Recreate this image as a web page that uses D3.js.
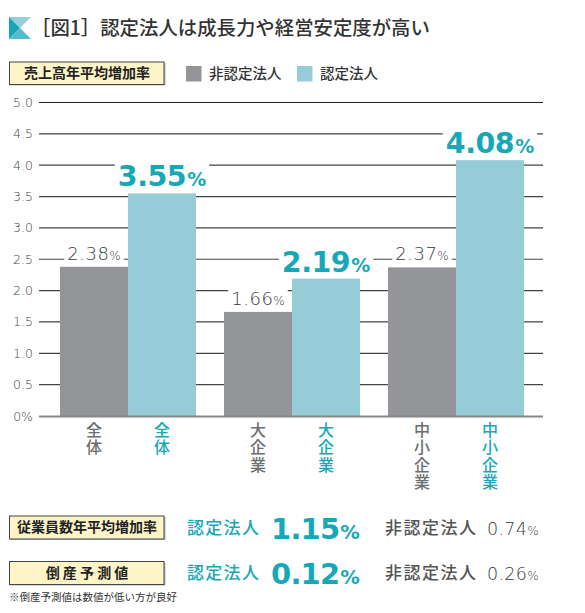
<!DOCTYPE html>
<html>
<head>
<meta charset="utf-8">
<script src="https://cdn.jsdelivr.net/npm/d3@7"></script>
<style>
  html, body { margin: 0; padding: 0; background: #fff; }
  svg { display: block; }
  .vert { writing-mode: vertical-rl; text-orientation: upright; }
</style>
</head>
<body>
<svg id="chart" width="585" height="613"></svg>
<script>
// ---- data ----
const title = "［図1］認定法人は成長力や経営安定度が高い";
const chartLabel = "売上高年平均増加率";
const seriesNames = ["非認定法人", "認定法人"];
const categories = ["全体", "大企業", "中小企業"];
const nonCertified = [2.38, 1.66, 2.37];
const certified = [3.55, 2.19, 4.08];
const yTicks = [0, 0.5, 1.0, 1.5, 2.0, 2.5, 3.0, 3.5, 4.0, 4.5, 5.0];
const yTickLabels = ["0%", "0.5", "1.0", "1.5", "2.0", "2.5", "3.0", "3.5", "4.0", "4.5", "5.0"];
const statLabels = ["従業員数年平均増加率", "倒 産 予 測 値"];
const statCertified = [1.15, 0.12];
const statNonCertified = [0.74, 0.26];
const footnote = "※倒産予測値は数値が低い方が良好";

// ---- style ----
const GRAY = "#939598", TEAL = "#96cbd8", TEAL_TXT = "#17a8b8";
const CJK = "'Noto Sans CJK JP', 'Noto Sans', sans-serif";
const NUM = "'DejaVu Sans', sans-serif";

const svg = d3.select("#chart");

// ---- title ----
const icon = svg.append("g");
icon.append("polygon").attr("points", "9,17 31,17 20,28").attr("fill", "#93d0dc");
icon.append("polygon").attr("points", "9,17 20,28 9,39").attr("fill", "#17a5b6");
icon.append("polygon").attr("points", "9,39 20,28 31,39").attr("fill", "#55bccb");
svg.append("text").attr("x", 31).attr("y", 35)
  .attr("font-family", CJK).attr("font-size", 19.4).attr("font-weight", 500)
  .attr("fill", "#333").text(title);

// ---- label box helper ----
function labelBox(y, h, txt) {
  const g = svg.append("g");
  g.append("rect").attr("x", 10.5).attr("y", y + 1.5).attr("width", 155).attr("height", h)
    .attr("fill", "#bbb");
  g.append("rect").attr("x", 9.5).attr("y", y + 0.5).attr("width", 154.5).attr("height", h)
    .attr("fill", "#fdf5c8").attr("stroke", "#444").attr("stroke-width", 1);
  g.append("text").attr("x", 87).attr("y", y + h / 2 + 5)
    .attr("text-anchor", "middle").attr("font-family", CJK).attr("font-size", 14)
    .attr("font-weight", 700).attr("fill", "#222").text(txt);
}
labelBox(61.5, 22.5, chartLabel);

// ---- legend ----
const legendColors = [GRAY, TEAL];
const legendX = [186, 297];
seriesNames.forEach((n, i) => {
  svg.append("rect").attr("x", legendX[i]).attr("y", 66).attr("width", 15.5).attr("height", 15.5)
    .attr("fill", legendColors[i]);
  svg.append("text").attr("x", legendX[i] + 23).attr("y", 79)
    .attr("font-family", CJK).attr("font-size", 14.5).attr("font-weight", 500)
    .attr("fill", "#333").text(n);
});

// ---- scales ----
const y = d3.scaleLinear().domain([0, 5]).range([416, 102.5]);
const x = d3.scaleBand().domain(categories).range([39, 545]).paddingInner(0.1707).paddingOuter(0.128);
const xs = d3.scaleBand().domain(seriesNames).range([0, x.bandwidth()]);

// gridlines
const grid = svg.append("g");
grid.selectAll("line").data(yTicks.filter(t => t > 0)).join("line")
  .attr("x1", 39).attr("x2", 543)
  .attr("y1", d => y(d)).attr("y2", d => y(d))
  .attr("stroke", d => d === 5 ? "#222" : "#444").attr("stroke-width", 1.2);

// tick labels
svg.append("g").selectAll("text").data(yTicks).join("text")
  .attr("x", 33).attr("y", d => y(d) + 4.5)
  .attr("text-anchor", "end").attr("font-family", NUM).attr("font-weight", 200)
  .attr("font-size", 12.5).attr("fill", "#444")
  .text((d, i) => yTickLabels[i]);

// bars
const rows = categories.map((c, i) => ({ c, vals: [nonCertified[i], certified[i]] }));
const barG = svg.append("g");
rows.forEach(r => {
  r.vals.forEach((v, j) => {
    barG.append("rect")
      .attr("x", x(r.c) + xs(seriesNames[j]))
      .attr("y", y(v))
      .attr("width", xs.bandwidth())
      .attr("height", y(0) - y(v))
      .attr("fill", legendColors[j]);
  });
});

// x base line
svg.append("line").attr("x1", 39).attr("x2", 543).attr("y1", 416.5).attr("y2", 416.5)
  .attr("stroke", "#888").attr("stroke-width", 2.2);

// value labels
const labelG = svg.append("g");
function valueLabel(cx, baseY, v, big) {
  const g = labelG.append("g");
  const bg = g.append("rect").attr("fill", "#fff");
  const t = g.append("text").attr("x", cx).attr("y", baseY).attr("text-anchor", "middle")
    .attr("font-family", NUM);
  if (big) {
    t.attr("font-weight", 700).attr("fill", TEAL_TXT);
    t.append("tspan").attr("font-size", 28.5).attr("letter-spacing", -0.5).text(v.toFixed(2));
    t.append("tspan").attr("font-size", 19).attr("dx", 1).text("%");
  } else {
    t.attr("font-weight", 200).attr("fill", "#3a3a3a");
    t.append("tspan").attr("font-size", 18).attr("letter-spacing", 0.5).text(v.toFixed(2));
    t.append("tspan").attr("font-size", 12).text("%");
  }
  const bb = t.node().getBBox();
  const padTop = big ? 2 : 1;
  bg.attr("x", bb.x - 3).attr("y", bb.y + padTop).attr("width", bb.width + 6)
    .attr("height", bb.height - padTop - (big ? 4 : 3));
}
rows.forEach(r => {
  r.vals.forEach((v, j) => {
    const cx = x(r.c) + xs(seriesNames[j]) + xs.bandwidth() / 2;
    valueLabel(cx, y(v) - 7, v, j === 1);
  });
});

// category labels (vertical writing)
const catColors = ["#6d6e70", TEAL_TXT];
rows.forEach(r => {
  seriesNames.forEach((s, j) => {
    const cx = x(r.c) + xs(s) + xs.bandwidth() / 2;
    svg.append("text").attr("class", "vert")
      .attr("x", cx).attr("y", 421.5)
      .attr("font-family", CJK).attr("font-size", 16).attr("font-weight", 500)
      .attr("letter-spacing", 1.6)
      .attr("fill", catColors[j]).text(r.c);
  });
});

// ---- bottom stats ----
const rowY = [515.5, 561];
statLabels.forEach((lab, i) => {
  labelBox(rowY[i], 23, lab);
  const cy = rowY[i] + 12;
  svg.append("text").attr("x", 187).attr("y", cy + 6)
    .attr("font-family", CJK).attr("font-size", 17).attr("font-weight", 500)
    .attr("letter-spacing", 1.3).attr("fill", TEAL_TXT).text(seriesNames[1]);
  const big = svg.append("text").attr("x", 271).attr("y", cy + 11)
    .attr("font-family", NUM).attr("font-weight", 700).attr("fill", TEAL_TXT);
  big.append("tspan").attr("font-size", 29).attr("letter-spacing", -0.8).text(statCertified[i].toFixed(2));
  big.append("tspan").attr("font-size", 19.5).attr("dx", 1).text("%");
  svg.append("text").attr("x", 385).attr("y", cy + 6)
    .attr("font-family", CJK).attr("font-size", 17).attr("font-weight", 500)
    .attr("letter-spacing", 1.5).attr("fill", "#555").text(seriesNames[0]);
  const small = svg.append("text").attr("x", 487).attr("y", cy + 7)
    .attr("font-family", NUM).attr("font-weight", 200).attr("fill", "#3a3a3a");
  small.append("tspan").attr("font-size", 17.5).attr("letter-spacing", 0.3).text(statNonCertified[i].toFixed(2));
  small.append("tspan").attr("font-size", 12).text("%");
});

svg.append("text").attr("x", 9).attr("y", 601)
  .attr("font-family", CJK).attr("font-size", 10.5).attr("fill", "#333").text(footnote);
</script>
</body>
</html>
